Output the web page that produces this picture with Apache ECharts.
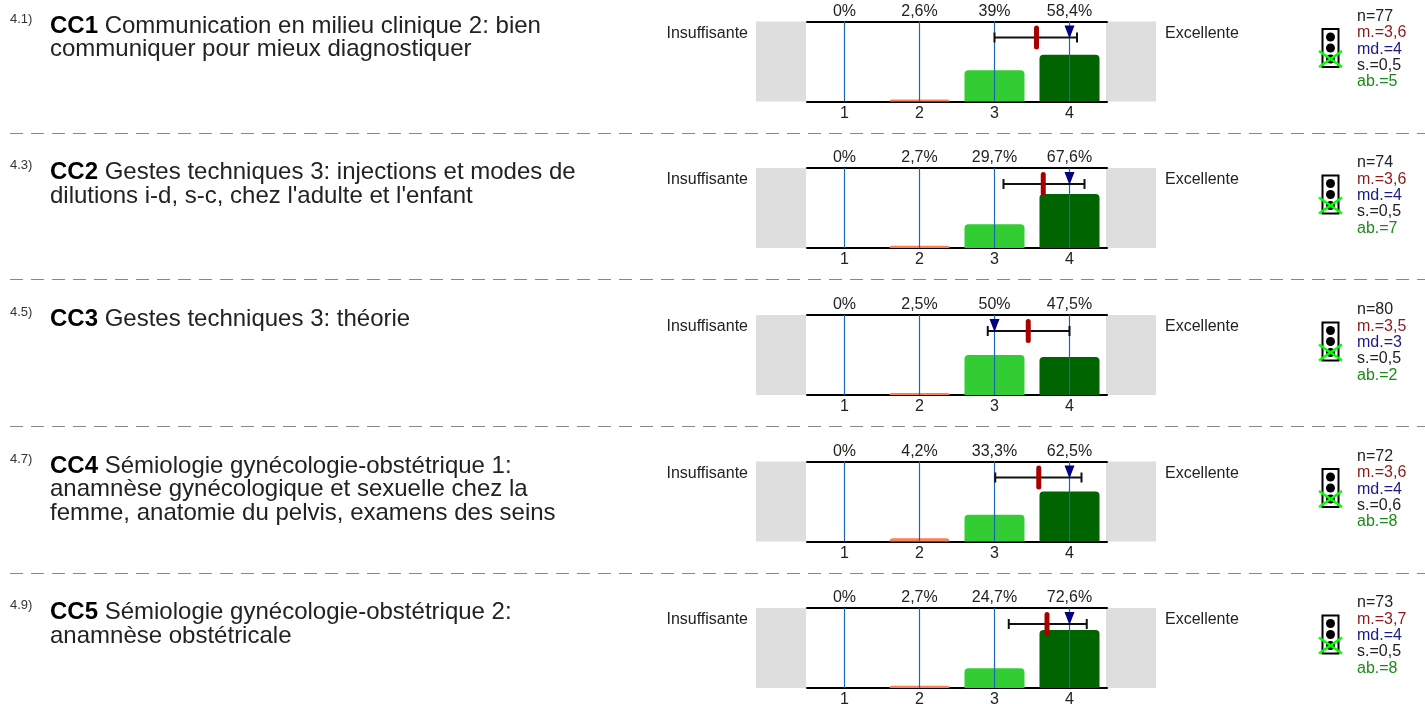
<!DOCTYPE html>
<html>
<head>
<meta charset="utf-8">
<style>
  html, body { margin: 0; padding: 0; background: #fff; }
  #chart { width: 1425px; height: 704px; }
</style>
<script src="https://cdn.jsdelivr.net/npm/echarts@6/dist/echarts.min.js"></script>
</head>
<body>
<div id="chart"></div>
<script>
// valeurs
const numbers = ['4.1)', '4.3)', '4.5)', '4.7)', '4.9)']
const codes = ['CC1', 'CC2', 'CC3', 'CC4', 'CC5']
const titles = [
  'Communication en milieu clinique 2: bien\ncommuniquer pour mieux diagnostiquer',
  "Gestes techniques 3: injections et modes de\ndilutions i-d, s-c, chez l'adulte et l'enfant",
  'Gestes techniques 3: théorie',
  'Sémiologie gynécologie-obstétrique 1:\nanamnèse gynécologique et sexuelle chez la\nfemme, anatomie du pelvis, examens des seins',
  'Sémiologie gynécologie-obstétrique 2:\nanamnèse obstétricale',
]
const scale = ['1', '2', '3', '4']
const percents = [
  [0, 2.6, 39, 58.4],
  [0, 2.7, 29.7, 67.6],
  [0, 2.5, 50, 47.5],
  [0, 4.2, 33.3, 62.5],
  [0, 2.7, 24.7, 72.6],
]
const means = [3.56, 3.65, 3.45, 3.59, 3.7]
const devLow = [3.0, 3.12, 2.91, 3.01, 3.19]
const devHigh = [4.1, 4.2, 4.0, 4.16, 4.23]
const medians = [4, 4, 3, 4, 4]
const nText = ['n=77', 'n=74', 'n=80', 'n=72', 'n=73']
const mText = ['m.=3,6', 'm.=3,6', 'm.=3,5', 'm.=3,6', 'm.=3,7']
const mdText = ['md.=4', 'md.=4', 'md.=3', 'md.=4', 'md.=4']
const sText = ['s.=0,5', 's.=0,5', 's.=0,5', 's.=0,6', 's.=0,5']
const abText = ['ab.=5', 'ab.=7', 'ab.=2', 'ab.=8', 'ab.=8']

// mise en page
const panelTops = [21.5, 168, 315, 461.5, 608]
const separators = [133.5, 279.5, 426.5, 573.5]
const barColors = ['#ff7f50', '#ff7f50', '#32cd32', '#006400']
const font = '"Liberation Sans", Arial, sans-serif'
const markerLevel = 80 // hauteur des marqueurs sur l'axe 0-100

const chart = echarts.init(document.getElementById('chart'))

const grid = [], xAxis = [], yAxis = [], series = [], title = [], graphic = []

separators.forEach((y) => {
  graphic.push({
    type: 'line', shape: { x1: 10, y1: y, x2: 1425, y2: y },
    style: { stroke: '#888', lineWidth: 1, lineDash: [13, 8] },
  })
})

const renderMarkers = (params, api) => {
  const low = api.coord([api.value(0), markerLevel])
  const high = api.coord([api.value(1), markerLevel])
  const mean = api.coord([api.value(2), markerLevel])
  const med = api.coord([api.value(3), markerLevel])
  const y = low[1]
  const black = { stroke: '#111', lineWidth: 2, fill: null }
  return {
    type: 'group',
    children: [
      { type: 'line', shape: { x1: low[0], y1: y, x2: high[0], y2: y }, style: black },
      { type: 'line', shape: { x1: low[0], y1: y - 5, x2: low[0], y2: y + 5 }, style: black },
      { type: 'line', shape: { x1: high[0], y1: y - 5, x2: high[0], y2: y + 5 }, style: black },
      { type: 'rect', shape: { x: mean[0] - 2.5, y: y - 12, width: 5, height: 24, r: 2.5 }, style: { fill: '#a80000' } },
      {
        type: 'polygon',
        shape: { points: [[med[0] - 5, y - 12], [med[0] + 5, y - 12], [med[0], y + 1]] },
        style: { fill: '#000080' },
      },
    ],
  }
}

percents.forEach((row, i) => {
  const top = panelTops[i]
  // outerBoundsMode none: sinon v6 réduit la grille du bas pour garder les labels dans le canvas
  grid.push({ left: 807, width: 300, top, height: 80, outerBoundsMode: 'none' })

  // axe du bas (échelle) et axe du haut (pourcentages)
  xAxis.push({
    gridIndex: i, type: 'category', data: scale, position: 'bottom',
    axisLine: { lineStyle: { color: '#000', width: 2 } },
    axisTick: { show: false }, splitLine: { show: false },
    axisLabel: { color: '#222', fontSize: 16, fontFamily: font, margin: 4 },
  })
  xAxis.push({
    gridIndex: i, type: 'category', position: 'top',
    data: row.map((v) => String(v).replace('.', ',') + '%'),
    axisLine: { lineStyle: { color: '#000', width: 2 } },
    axisTick: { show: false }, splitLine: { show: false },
    axisLabel: { color: '#222', fontSize: 16, fontFamily: font, margin: 2, interval: 0 },
  })
  // axe caché pour les marqueurs moyenne / écart-type / médiane
  xAxis.push({
    gridIndex: i, type: 'value', min: 0.5, max: 4.5, show: false,
    splitLine: { show: false }, axisLine: { show: false }, axisTick: { show: false }, axisLabel: { show: false },
  })
  yAxis.push({ gridIndex: i, type: 'value', min: 0, max: 100, show: false, splitLine: { show: false } })

  series.push({
    type: 'bar',
    xAxisIndex: i * 3, yAxisIndex: i,
    barWidth: 60,
    data: row.map((v, k) => ({ value: v, itemStyle: { color: barColors[k], borderRadius: [4, 4, 0, 0] } })),
    silent: true, z: 2,
    markLine: {
      silent: true, symbol: 'none', label: { show: false }, animation: false,
      lineStyle: { color: '#1a66b3', width: 1.2, type: 'solid' },
      data: scale.map((s) => ({ xAxis: s })),
    },
  })
  series.push({
    type: 'custom',
    xAxisIndex: i * 3 + 2, yAxisIndex: i,
    data: [[devLow[i], devHigh[i], means[i], medians[i]]],
    renderItem: renderMarkers, silent: true, z: 5, clip: false,
  })

  // bandes grises de chaque côté
  graphic.push({ type: 'rect', z: -1, shape: { x: 756, y: top, width: 50, height: 80 }, style: { fill: '#dedede' } })
  graphic.push({ type: 'rect', z: -1, shape: { x: 1106, y: top, width: 50, height: 80 }, style: { fill: '#dedede' } })

  // feu tricolore
  const lx = 1322, ly = top + 7.5
  graphic.push({ type: 'rect', shape: { x: lx + 0.5, y: ly, width: 16, height: 38 }, style: { fill: '#fff', stroke: '#000', lineWidth: 2 } })
  ;[8, 19, 30].forEach((dy) => {
    graphic.push({ type: 'circle', shape: { cx: lx + 8.5, cy: ly + dy, r: 4.5 }, style: { fill: '#000' } })
  })
  graphic.push({ type: 'line', shape: { x1: lx - 3, y1: ly + 22, x2: lx + 20, y2: ly + 38 }, style: { stroke: '#00ff00', lineWidth: 2.5 } })
  graphic.push({ type: 'line', shape: { x1: lx - 3, y1: ly + 38, x2: lx + 20, y2: ly + 22 }, style: { stroke: '#00ff00', lineWidth: 2.5 } })

  // textes
  title.push({
    left: 10, top: top - 9, padding: 0, text: numbers[i],
    textStyle: { fontFamily: font, fontSize: 13, fontWeight: 'normal', color: '#333' },
  })
  title.push({
    left: 50, top: top - 7, padding: 0,
    text: '{b|' + codes[i] + '} ' + titles[i],
    textStyle: {
      fontFamily: font, fontSize: 24, fontWeight: 'normal', color: '#222', lineHeight: 23.5,
      rich: { b: { fontFamily: font, fontSize: 24, fontWeight: 'bold', color: '#000', lineHeight: 23.5 } },
    },
  })
  title.push({
    right: 1425 - 748, top: top + 4, padding: 0, text: 'Insuffisante',
    textStyle: { fontFamily: font, fontSize: 16, fontWeight: 'normal', color: '#222' },
  })
  title.push({
    left: 1165, top: top + 4, padding: 0, text: 'Excellente',
    textStyle: { fontFamily: font, fontSize: 16, fontWeight: 'normal', color: '#222' },
  })
  ;[[nText, '#222'], [mText, '#8b1a1a'], [mdText, '#1a1a8b'], [sText, '#222'], [abText, '#1a8b1a']].forEach(([list, color], k) => {
    title.push({
      left: 1357, top: top - 13 + k * 16.3, padding: 0, text: list[i],
      textStyle: { fontFamily: font, fontSize: 16, fontWeight: 'normal', color },
    })
  })
})

chart.setOption({ animation: false, grid, xAxis, yAxis, series, title, graphic })
</script>
</body>
</html>
